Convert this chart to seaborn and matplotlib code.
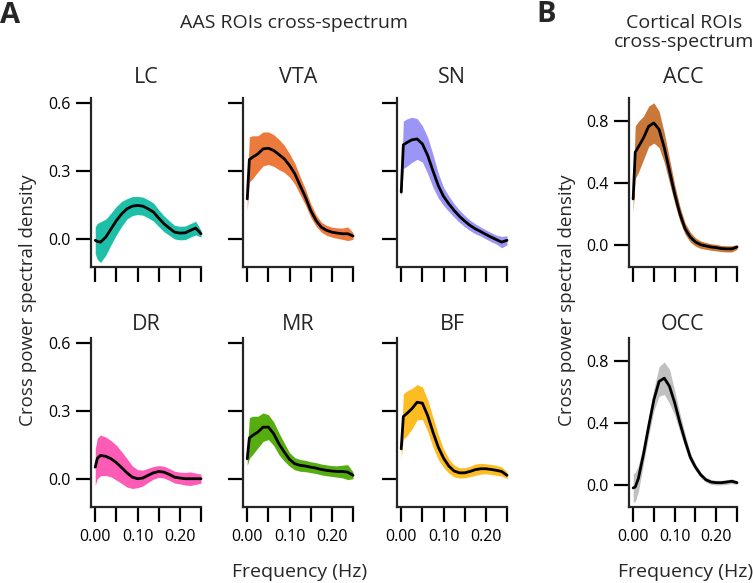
import numpy as np
import pandas as pd
import matplotlib
matplotlib.use("Agg")
import matplotlib.pyplot as plt
import seaborn as sns

W, H = 753, 583

# frequency grid (Hz)
freq = [0, 0.005, 0.0125, 0.025, 0.0375, 0.05, 0.0625, 0.075, 0.0875, 0.1, 0.1125,
        0.125, 0.1375, 0.15, 0.1625, 0.175, 0.1875, 0.2, 0.2125, 0.225, 0.2375, 0.25]

# AAS ROIs: mean and half band width
lc_mean = [-0.007, -0.012, -0.015, 0.007, 0.044, 0.08, 0.11, 0.132, 0.144, 0.147, 0.144,
           0.132, 0.118, 0.091, 0.066, 0.047, 0.029, 0.025, 0.026, 0.037, 0.047, 0.022]
lc_sem = [0.06, 0.08, 0.09, 0.08, 0.07, 0.063, 0.055, 0.045, 0.042, 0.04, 0.04,
          0.04, 0.04, 0.037, 0.035, 0.032, 0.03, 0.03, 0.03, 0.03, 0.03, 0.015]

vta_mean = [0.176, 0.35, 0.36, 0.375, 0.397, 0.40, 0.39, 0.372, 0.353, 0.324, 0.287,
            0.235, 0.184, 0.125, 0.081, 0.051, 0.037, 0.029, 0.025, 0.022, 0.022, 0.012]
vta_sem = [0.05, 0.1, 0.095, 0.08, 0.075, 0.072, 0.07, 0.067, 0.06, 0.052, 0.046,
           0.04, 0.035, 0.03, 0.025, 0.022, 0.022, 0.022, 0.023, 0.025, 0.03, 0.015]

sn_mean = [0.206, 0.415, 0.424, 0.437, 0.441, 0.419, 0.368, 0.30, 0.235, 0.187, 0.154,
           0.125, 0.099, 0.078, 0.059, 0.044, 0.032, 0.019, 0.007, -0.004, -0.015, -0.007]
sn_sem = [0.03, 0.105, 0.105, 0.1, 0.09, 0.08, 0.08, 0.073, 0.055, 0.04, 0.034,
          0.03, 0.027, 0.025, 0.023, 0.022, 0.02, 0.02, 0.02, 0.02, 0.025, 0.02]

dr_mean = [0.051, 0.09, 0.103, 0.099, 0.088, 0.071, 0.049, 0.026, 0.007, 0.0, 0.003,
           0.015, 0.026, 0.032, 0.029, 0.019, 0.007, 0.003, 0.0, 0.0, 0.0, 0.0]
dr_sem = [0.08, 0.09, 0.09, 0.085, 0.08, 0.077, 0.07, 0.063, 0.05, 0.04, 0.035,
          0.031, 0.028, 0.026, 0.026, 0.026, 0.026, 0.026, 0.028, 0.03, 0.025, 0.02]

mr_mean = [0.088, 0.18, 0.191, 0.206, 0.228, 0.228, 0.199, 0.154, 0.118, 0.085, 0.066,
           0.059, 0.056, 0.051, 0.047, 0.041, 0.037, 0.034, 0.032, 0.032, 0.029, 0.015]
mr_sem = [0.03, 0.09, 0.085, 0.07, 0.063, 0.055, 0.052, 0.048, 0.04, 0.03, 0.027,
          0.026, 0.025, 0.024, 0.024, 0.024, 0.024, 0.024, 0.025, 0.028, 0.033, 0.015]

bf_mean = [0.132, 0.275, 0.287, 0.309, 0.338, 0.334, 0.279, 0.206, 0.14, 0.091, 0.056,
           0.034, 0.026, 0.026, 0.032, 0.04, 0.044, 0.044, 0.041, 0.037, 0.032, 0.015]
bf_sem = [0.04, 0.1, 0.1, 0.09, 0.078, 0.072, 0.07, 0.066, 0.055, 0.04, 0.032,
          0.026, 0.023, 0.022, 0.023, 0.025, 0.024, 0.022, 0.022, 0.022, 0.02, 0.015]

# cortical ROIs
acc_mean = [0.299, 0.6, 0.634, 0.693, 0.768, 0.789, 0.747, 0.629, 0.48, 0.331, 0.203,
            0.107, 0.053, 0.021, 0.004, -0.004, -0.011, -0.015, -0.021, -0.023, -0.023, -0.011]
acc_sem = [0.08, 0.17, 0.165, 0.14, 0.13, 0.13, 0.117, 0.096, 0.078, 0.06, 0.048,
           0.037, 0.032, 0.027, 0.024, 0.022, 0.021, 0.021, 0.02, 0.02, 0.02, 0.015]

occ_mean = [-0.017, -0.011, 0.043, 0.202, 0.383, 0.553, 0.67, 0.691, 0.638, 0.532, 0.404,
            0.287, 0.181, 0.117, 0.068, 0.036, 0.021, 0.017, 0.017, 0.021, 0.026, 0.017]
occ_sem = [0.09, 0.095, 0.085, 0.06, 0.06, 0.07, 0.095, 0.105, 0.11, 0.08, 0.06,
           0.043, 0.03, 0.02, 0.018, 0.016, 0.015, 0.015, 0.015, 0.015, 0.015, 0.012]

x_ticks = [0, 0.05, 0.10, 0.15, 0.20, 0.25]
x_ticklabels = ["0.00", "", "0.10", "", "0.20", ""]

sns.set_theme(style="ticks")
plt.rcParams["font.family"] = ["Open Sans", "DejaVu Sans"]
plt.rcParams["axes.linewidth"] = 1.6

fig = plt.figure(figsize=(W / 100, H / 100), dpi=100)


def px_axes(left, top, width, height):
    return fig.add_axes([left / W, 1 - (top + height) / H, width / W, height / H])


def fig_text(x, y, s, **kw):
    return fig.text(x / W, 1 - y / H, s, **kw)


def draw_panel(ax, mean, sem, color, ylim, yticks, ylabels, show_x):
    df = pd.DataFrame({"freq": freq, "mean": mean, "sem": sem})
    ax.fill_between(df["freq"], df["mean"] - df["sem"], df["mean"] + df["sem"],
                    color=color, lw=0, clip_on=False)
    sns.lineplot(data=df, x="freq", y="mean", color="black", lw=2, ax=ax, clip_on=False)
    ax.set(xlabel="", ylabel="")
    ax.set_xlim(-0.01, 0.25)
    ax.set_ylim(*ylim)
    ax.set_xticks(x_ticks)
    ax.set_xticklabels(x_ticklabels if show_x else [])
    ax.set_yticks(yticks)
    ax.set_yticklabels(ylabels if ylabels else [])
    sns.despine(ax=ax)
    ax.tick_params(axis="both", direction="out", length=11, width=1.6,
                   labelsize=11.5, colors="black")
    ax.tick_params(axis="y", pad=4)
    ax.tick_params(axis="x", pad=5)
    ax.patch.set_alpha(0)


aas_ylim = (-0.125, 0.622)
aas_yt = [0, 0.3, 0.6]
aas_yl = ["0.0", "0.3", "0.6"]

aas_panels = [
    ("LC", lc_mean, lc_sem, "#1dbfa9", 91, 98),
    ("VTA", vta_mean, vta_sem, "#ec7a3c", 243, 98),
    ("SN", sn_mean, sn_sem, "#9b95f5", 397, 98),
    ("DR", dr_mean, dr_sem, "#fc5bb6", 91, 338),
    ("MR", mr_mean, mr_sem, "#56ad0f", 243, 338),
    ("BF", bf_mean, bf_sem, "#fdbc21", 397, 338),
]

for name, m, s, col, left, top in aas_panels:
    ax = px_axes(left, top, 110, 169)
    draw_panel(ax, m, s, col, aas_ylim, aas_yt, aas_yl if left == 91 else None, top > 200)
    fig_text(left + 55, 83 if top < 200 else 330, name, ha="center", va="baseline", fontsize=15.5)

cort_panels = [
    ("ACC", acc_mean, acc_sem, "#c9783a", 98),
    ("OCC", occ_mean, occ_sem, "#c0c0c0", 338),
]
for name, m, s, col, top in cort_panels:
    ax = px_axes(629, top, 108, 169)
    draw_panel(ax, m, s, col, (-0.14, 0.95), [0, 0.4, 0.8], ["0.0", "0.4", "0.8"], top > 200)
    fig_text(683, 83 if top < 200 else 330, name, ha="center", va="baseline", fontsize=15.5)

# headings and labels
fig_text(0, 23, "A", fontsize=21, fontweight="bold", va="baseline")
fig_text(536, 22, "B", fontsize=21, fontweight="bold", va="baseline")
fig_text(294, 28, "AAS ROIs cross-spectrum", ha="center", va="baseline", fontsize=14)
fig_text(684, 28, "Cortical ROIs", ha="center", va="baseline", fontsize=14)
fig_text(684, 47, "cross-spectrum", ha="center", va="baseline", fontsize=14)
fig_text(28, 300, "Cross power spectral density", rotation=90, ha="center", va="center", fontsize=13.5)
fig_text(567, 300, "Cross power spectral density", rotation=90, ha="center", va="center", fontsize=13.5)
fig_text(300, 577, "Frequency (Hz)", ha="center", va="baseline", fontsize=14)
fig_text(686, 577, "Frequency (Hz)", ha="center", va="baseline", fontsize=14)

fig.savefig("out.png", dpi=100)
